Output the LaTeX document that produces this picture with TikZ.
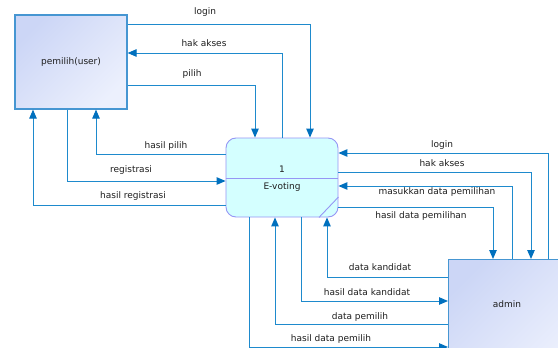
\documentclass[tikz,border=0pt]{standalone}
\usepackage{fontspec}
\setmainfont{DejaVu Sans}
\usetikzlibrary{arrows.meta,shapes.misc}
\definecolor{flowc}{RGB}{30,138,205}
\definecolor{tipc}{RGB}{0,112,190}
\definecolor{entA}{RGB}{204,214,246}
\definecolor{entB}{RGB}{236,240,253}
\definecolor{entD}{RGB}{70,150,210}
\definecolor{procF}{RGB}{212,255,255}
\definecolor{procD}{RGB}{150,150,245}
\definecolor{txt}{RGB}{30,30,30}
\tikzset{
  entity/.style={draw=entD, line width=1.2pt, top color=entA, bottom color=entB, shading angle=45, inner sep=0pt, text=txt},
  proc/.style={draw=procD, line width=0.9pt, fill=procF, rounded corners=10pt, inner sep=0pt},
  flow/.style={draw=flowc, line width=1pt, -{Triangle[length=9pt,width=7.5pt,color=tipc]}},
  lbl/.style={text=txt, inner sep=0pt, font=\fontsize{9}{10}\selectfont},
}
\begin{document}
\begin{tikzpicture}[x=1pt,y=-1pt]
\clip (0,0) rectangle (558,348);
\fill[white] (0,0) rectangle (558,348);
% entities
\node[entity, minimum width=112pt, minimum height=94pt, font=\fontsize{9}{10}\selectfont] (pemilih) at (71,62) {pemilih(user)};
\node[entity, line width=0.9pt, minimum width=130pt, minimum height=110pt, anchor=north west] (admin) at (448,259) {};
\node[lbl] (admintxt) at (507,304) {admin};
% process
\node[proc, minimum width=112pt, minimum height=79pt] (evote) at (282,177.5) {};
\draw[procD, line width=0.9pt] (evote.west |- 0,178) -- (evote.east |- 0,178);
\draw[procD, line width=0.9pt] (evote.east |- 0,197) -- (evote.south -| 319,0);
\node[lbl] (pnum) at (282,169) {1};
\node[lbl] (pname) at (282,187) {E-voting};
% left flows
\draw[flow] (pemilih.east |- 0,24) -| (evote.north -| 310,0);
\draw[flow] (evote.north -| 282,0) |- (pemilih.east |- 0,53);
\draw[flow] (pemilih.east |- 0,85) -| (evote.north -| 255,0);
\draw[flow] (evote.west |- 0,154) -| (pemilih.south -| 96,0);
\draw[flow] (pemilih.south -| 67,0) |- (evote.west |- 0,181);
\draw[flow] (evote.west |- 0,205) -| (pemilih.south -| 33,0);
% right flows
\draw[flow] (admin.north -| 548,0) |- (evote.east |- 0,153);
\draw[flow] (evote.east |- 0,172) -| (admin.north -| 531,0);
\draw[flow] (admin.north -| 512,0) |- (evote.east |- 0,186);
\draw[flow] (evote.east |- 0,207) -| (admin.north -| 493,0);
\draw[flow] (admin.west |- 0,277) -| (evote.south -| 327,0);
\draw[flow] (evote.south -| 301,0) |- (admin.west |- 0,301);
\draw[flow] (admin.west |- 0,324) -| (evote.south -| 275,0);
\draw[flow] (evote.south -| 249,0) |- (admin.west |- 0,347);
% labels
\node[lbl] (l1) at (205,12) {login};
\node[lbl] (l2) at (204,43) {hak akses};
\node[lbl] (l3) at (192,74) {pilih};
\node[lbl] (l4) at (166,146) {hasil pilih};
\node[lbl] (l5) at (131,170) {registrasi};
\node[lbl] (l6) at (133,196) {hasil registrasi};
\node[lbl] (r1) at (442,145) {login};
\node[lbl] (r2) at (442,163) {hak akses};
\node[lbl] (r3) at (437,192) {masukkan data pemilihan};
\node[lbl] (r4) at (421,216) {hasil data pemilihan};
\node[lbl] (r5) at (380,267) {data kandidat};
\node[lbl] (r6) at (367,292) {hasil data kandidat};
\node[lbl] (r7) at (360,317) {data pemilih};
\node[lbl] (r8) at (331,339) {hasil data pemilih};
\end{tikzpicture}
\end{document}
